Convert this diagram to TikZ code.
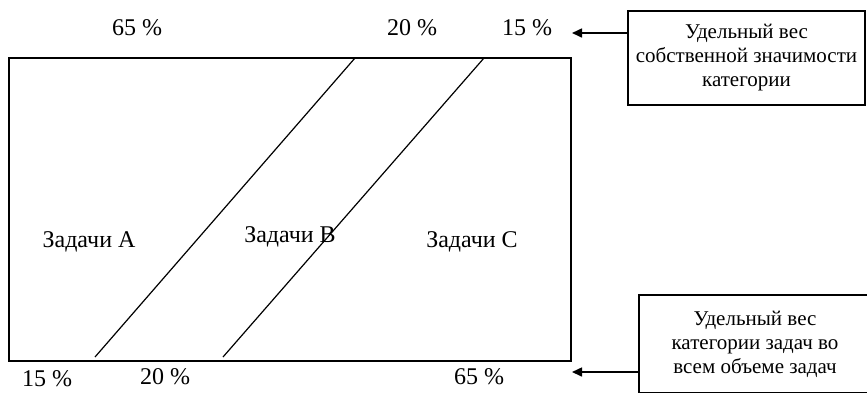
\documentclass[tikz,border=0pt]{standalone}
\usepackage{fontspec}
\setmainfont{Liberation Serif}
\usetikzlibrary{arrows.meta,positioning,calc}

\begin{document}
\begin{tikzpicture}[
  x=1pt, y=-1pt,
  font=\fontsize{21}{24}\selectfont,
  label/.style={inner sep=0pt, anchor=center, font=\fontsize{24}{28}\selectfont},
  infobox/.style={draw=black, line width=1.6pt, align=center, inner sep=0pt},
  arrow/.style={-{Triangle[length=10pt,width=9pt]}, line width=1.6pt, draw=black},
  part/.style={line width=1.2pt}
]
\useasboundingbox (0,0) rectangle (867,392);
% main field
\draw[line width=1.5pt] (9,58) rectangle (571,361);
\coordinate (a1) at (95,357);
\coordinate (a2) at (355,58);
\coordinate (b1) at (223,357);
\coordinate (b2) at (484,58);
\draw[part] (a1) -- (a2);
\draw[part] (b1) -- (b2);
\node[label] (zA) at (89,242) {Задачи А};
\node[label] (zB) at (290,237) {Задачи В};
\node[label] (zC) at (472,242) {Задачи С};
% shares on top
\node[label] (tA) at (137,28) {65 \%};
\node[label] (tB) at (412,28) {20 \%};
\node[label] (tC) at (527,28) {15 \%};
% shares at the bottom
\node[label] (bA) at (47,378.5) {15 \%};
\node[label] (bB) at (165,377) {20 \%};
\node[label] (bC) at (479,377) {65 \%};
% notes
\node[infobox, minimum width=237pt, minimum height=94pt]
  (own) at (746.5,58) {Удельный вес\\ собственной значимости\\ категории};
\node[infobox, minimum width=232pt, minimum height=98pt]
  (vol) at (755,344) {Удельный вес\\ категории задач во\\ всем объеме задач};
\coordinate (ownTip) at (572,33);
\coordinate (volTip) at (572,372);
\draw[arrow] (own.west |- ownTip) -- (ownTip);
\draw[arrow] (vol.west |- volTip) -- (volTip);
\end{tikzpicture}
\end{document}
